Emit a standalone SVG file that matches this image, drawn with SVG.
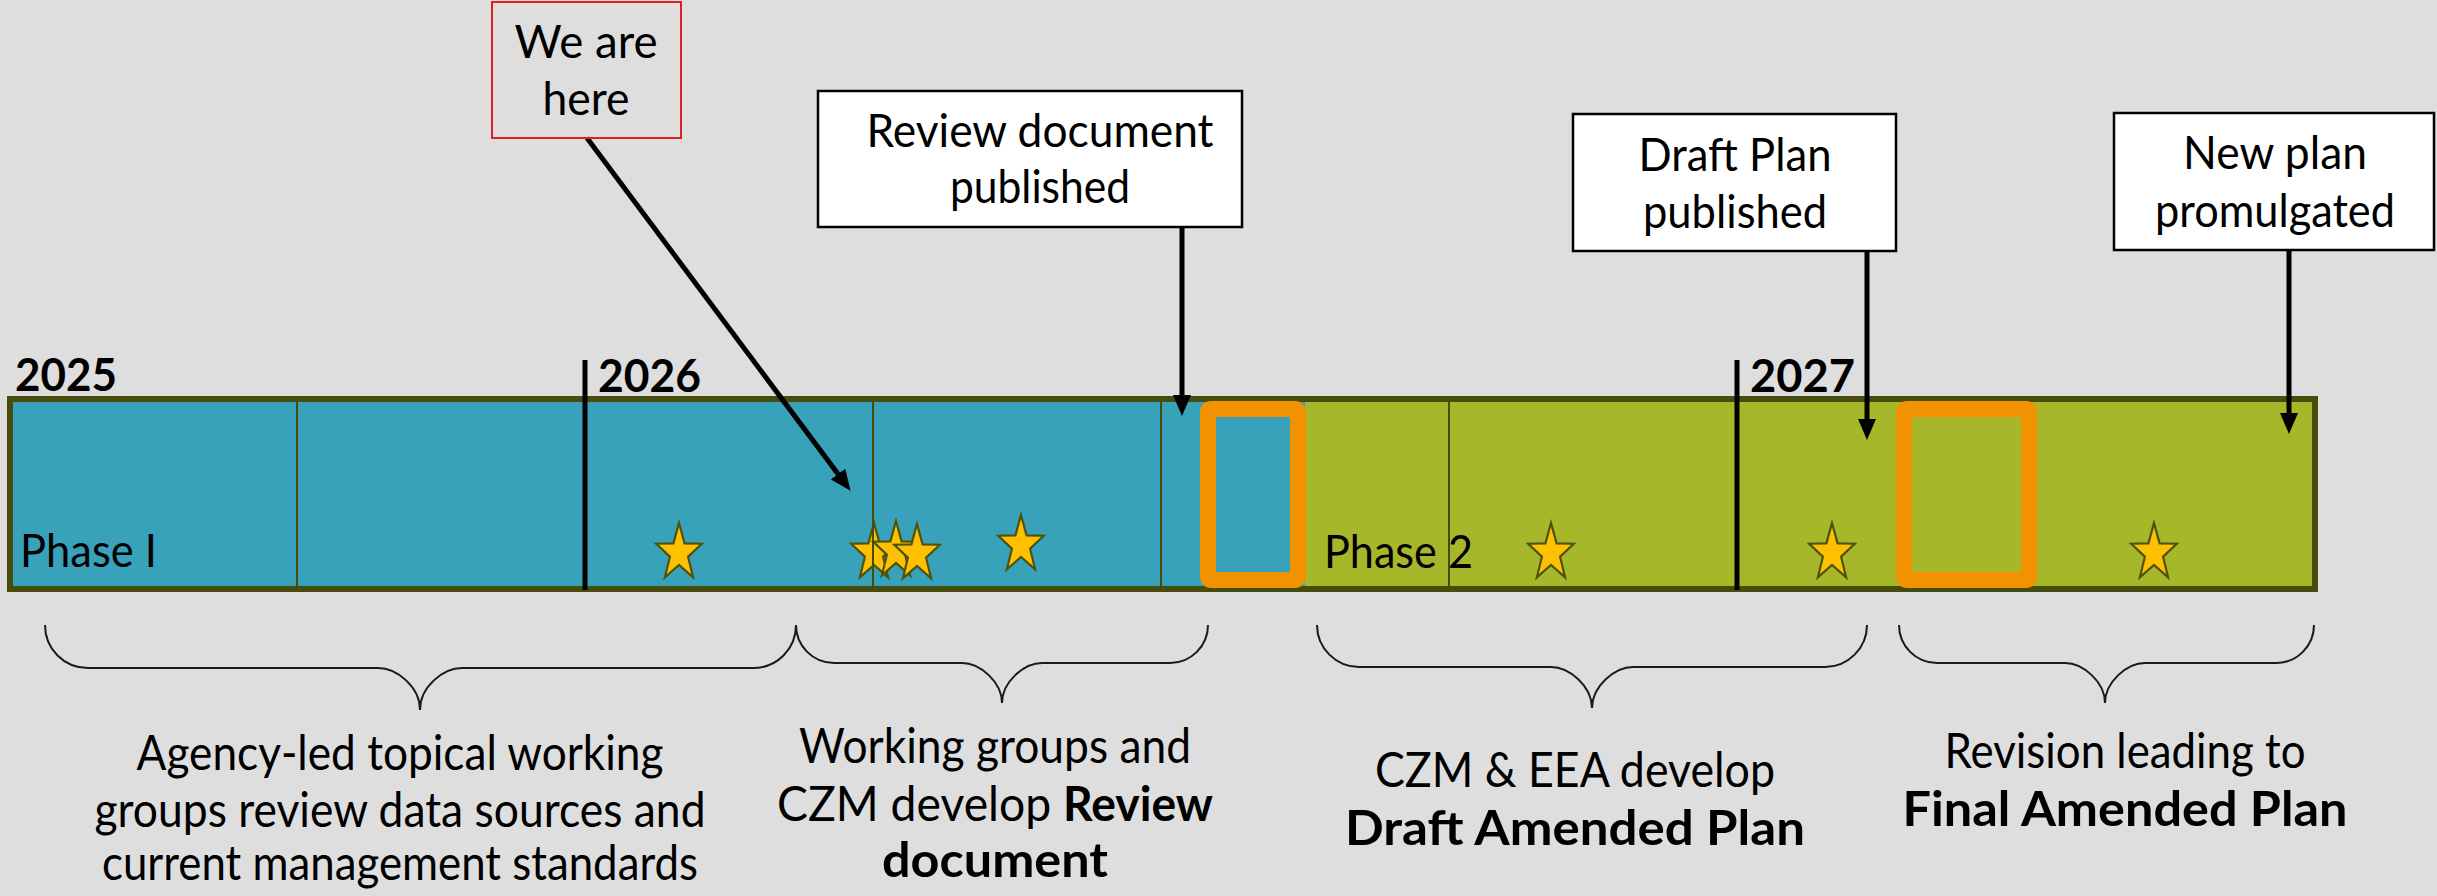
<svg xmlns="http://www.w3.org/2000/svg" width="2437" height="896" viewBox="0 0 2437 896">
  <style>
    text { font-family: Lato, 'Liberation Sans', sans-serif; fill: #000; }
    .mid { text-anchor: middle; }
    .box-text { font-size: 46px; }
    .caption { font-size: 48px; }
    .year { font-size: 45px; font-weight: bold; }
    .phase { font-size: 46px; }
    .b { font-weight: bold; }
    .callout { fill: #ffffff; stroke: #000; stroke-width: 2.5; }
    .divider { stroke: #474b0c; stroke-width: 2; }
    .year-line { stroke: #000; stroke-width: 5; }
    .gate { fill: none; stroke: #f39200; stroke-width: 16; }
    .star { fill: #ffc000; stroke: #4f520e; stroke-width: 2.2; stroke-linejoin: miter; }
    .brace { fill: none; stroke: #1a1a1a; stroke-width: 2; }
    .arrow { fill: none; stroke: #000; stroke-width: 5; marker-end: url(#head); }
  </style>
  <defs>
    <marker id="head" markerUnits="userSpaceOnUse" markerWidth="21" markerHeight="18" refX="10" refY="9" orient="auto">
      <path d="M0,0 L21,9 L0,18 Z" fill="#000"/>
    </marker>
    <!-- five-point milestone star, centred on its outer-circle centre -->
    <path id="star" d="M0,-30 L5.6,-9.7 L22.8,-9.3 L9.1,3.7 L14.1,24.3 L0,12 L-14.1,24.3 L-9.1,3.7 L-22.8,-9.3 L-5.6,-9.7 Z"/>
  </defs>

  <rect width="2437" height="896" fill="#dedede"/>

  <!-- timeline bar: phase 1 (teal) and phase 2 (green) -->
  <g id="timeline">
    <rect x="10" y="399" width="1295" height="190" fill="#38a2bb"/>
    <rect x="1305" y="399" width="1010" height="190" fill="#a6b82a"/>

    <g id="milestones">
      <use href="#star" class="star" x="679" y="553"/>
      <use href="#star" class="star" x="874" y="553"/>
      <use href="#star" class="star" x="896" y="551"/>
      <use href="#star" class="star" x="917" y="554"/>
      <use href="#star" class="star" x="1021" y="545"/>
      <use href="#star" class="star" x="1551" y="553"/>
      <use href="#star" class="star" x="1832" y="553"/>
      <use href="#star" class="star" x="2154" y="553"/>
    </g>

    <!-- quarter dividers -->
    <g id="quarters">
      <line class="divider" x1="297" y1="401" x2="297" y2="587"/>
      <line class="divider" x1="873" y1="401" x2="873" y2="587"/>
      <line class="divider" x1="1161" y1="401" x2="1161" y2="587"/>
      <line class="divider" x1="1449" y1="401" x2="1449" y2="587"/>
    </g>

    <rect x="10" y="399" width="2305" height="190" fill="none" stroke="#474b0c" stroke-width="6"/>

    <!-- year boundaries -->
    <line class="year-line" x1="585" y1="360" x2="585" y2="590"/>
    <line class="year-line" x1="1737" y1="360" x2="1737" y2="590"/>
    <text class="year" x="15" y="391" textLength="102" lengthAdjust="spacingAndGlyphs">2025</text>
    <text class="year" x="598" y="392" textLength="103" lengthAdjust="spacingAndGlyphs">2026</text>
    <text class="year" x="1750" y="392" textLength="105" lengthAdjust="spacingAndGlyphs">2027</text>

    <!-- review gates -->
    <rect class="gate" x="1208" y="409" width="90" height="171" rx="3"/>
    <rect class="gate" x="1904" y="409" width="125" height="171" rx="3"/>

    <text class="phase" x="20" y="567" textLength="137" lengthAdjust="spacingAndGlyphs">Phase I</text>
    <text class="phase" x="1324" y="568" textLength="149" lengthAdjust="spacingAndGlyphs">Phase 2</text>
  </g>

  <!-- connectors -->
  <g id="connectors">
    <line class="arrow" x1="587" y1="138" x2="844" y2="482"/>
    <line class="arrow" x1="1182" y1="227" x2="1182" y2="405"/>
    <line class="arrow" x1="1867" y1="251" x2="1867" y2="429"/>
    <line class="arrow" x1="2289" y1="250" x2="2289" y2="423"/>
  </g>

  <!-- callouts -->
  <g id="we-are-here">
    <rect x="492" y="2" width="189" height="136" fill="none" stroke="#dd1f1f" stroke-width="2"/>
    <text class="box-text mid" x="586" y="58" textLength="143" lengthAdjust="spacingAndGlyphs">We are</text>
    <text class="box-text mid" x="586" y="115" textLength="87" lengthAdjust="spacingAndGlyphs">here</text>
  </g>
  <g id="review-published">
    <rect class="callout" x="818" y="91" width="424" height="136"/>
    <text class="box-text mid" x="1040" y="147" textLength="347" lengthAdjust="spacingAndGlyphs">Review document</text>
    <text class="box-text mid" x="1040" y="203" textLength="180" lengthAdjust="spacingAndGlyphs">published</text>
  </g>
  <g id="draft-published">
    <rect class="callout" x="1573" y="114" width="323" height="137"/>
    <text class="box-text mid" x="1735" y="171" textLength="193" lengthAdjust="spacingAndGlyphs">Draft Plan</text>
    <text class="box-text mid" x="1735" y="228" textLength="184" lengthAdjust="spacingAndGlyphs">published</text>
  </g>
  <g id="plan-promulgated">
    <rect class="callout" x="2114" y="113" width="320" height="137"/>
    <text class="box-text mid" x="2275" y="169" textLength="184" lengthAdjust="spacingAndGlyphs">New plan</text>
    <text class="box-text mid" x="2275" y="227" textLength="240" lengthAdjust="spacingAndGlyphs">promulgated</text>
  </g>

  <!-- stage braces -->
  <g id="braces">
    <path class="brace" d="M45,625 C45,649 64,668 88,668 L378,668 C397,668 420,687 420,710 C420,687 443,668 462,668 L753,668 C777,668 796,649 796,625"/>
    <path class="brace" d="M796,625 C796,646 813,663 834,663 L962,663 C980,663 1002,682 1002,703 C1002,682 1024,663 1042,663 L1170,663 C1191,663 1208,646 1208,625"/>
    <path class="brace" d="M1317,625 C1317,648 1336,667 1359,667 L1551,667 C1569,667 1592,686 1592,708 C1592,686 1615,667 1633,667 L1825,667 C1848,667 1867,648 1867,625"/>
    <path class="brace" d="M1899,625 C1899,646 1916,663 1937,663 L2065,663 C2083,663 2105,682 2105,703 C2105,682 2127,663 2145,663 L2276,663 C2297,663 2314,646 2314,625"/>
  </g>

  <!-- stage descriptions -->
  <g id="stage-1">
    <text class="caption mid" x="400" y="770" textLength="527" lengthAdjust="spacingAndGlyphs">Agency-led topical working</text>
    <text class="caption mid" x="400" y="827" textLength="611" lengthAdjust="spacingAndGlyphs">groups review data sources and</text>
    <text class="caption mid" x="400" y="880" textLength="596" lengthAdjust="spacingAndGlyphs">current management standards</text>
  </g>
  <g id="stage-2">
    <text class="caption mid" x="995" y="763" textLength="392" lengthAdjust="spacingAndGlyphs">Working groups and</text>
    <text class="caption mid" x="995" y="821" textLength="436" lengthAdjust="spacingAndGlyphs">CZM develop <tspan class="b">Review</tspan></text>
    <text class="caption mid b" x="995" y="877" textLength="226" lengthAdjust="spacingAndGlyphs">document</text>
  </g>
  <g id="stage-3">
    <text class="caption mid" x="1575" y="787" textLength="400" lengthAdjust="spacingAndGlyphs">CZM &amp; EEA develop</text>
    <text class="caption mid b" x="1575" y="845" textLength="460" lengthAdjust="spacingAndGlyphs">Draft Amended Plan</text>
  </g>
  <g id="stage-4">
    <text class="caption mid" x="2125" y="768" textLength="361" lengthAdjust="spacingAndGlyphs">Revision leading to</text>
    <text class="caption mid b" x="2125" y="826" textLength="445" lengthAdjust="spacingAndGlyphs">Final Amended Plan</text>
  </g>
</svg>
